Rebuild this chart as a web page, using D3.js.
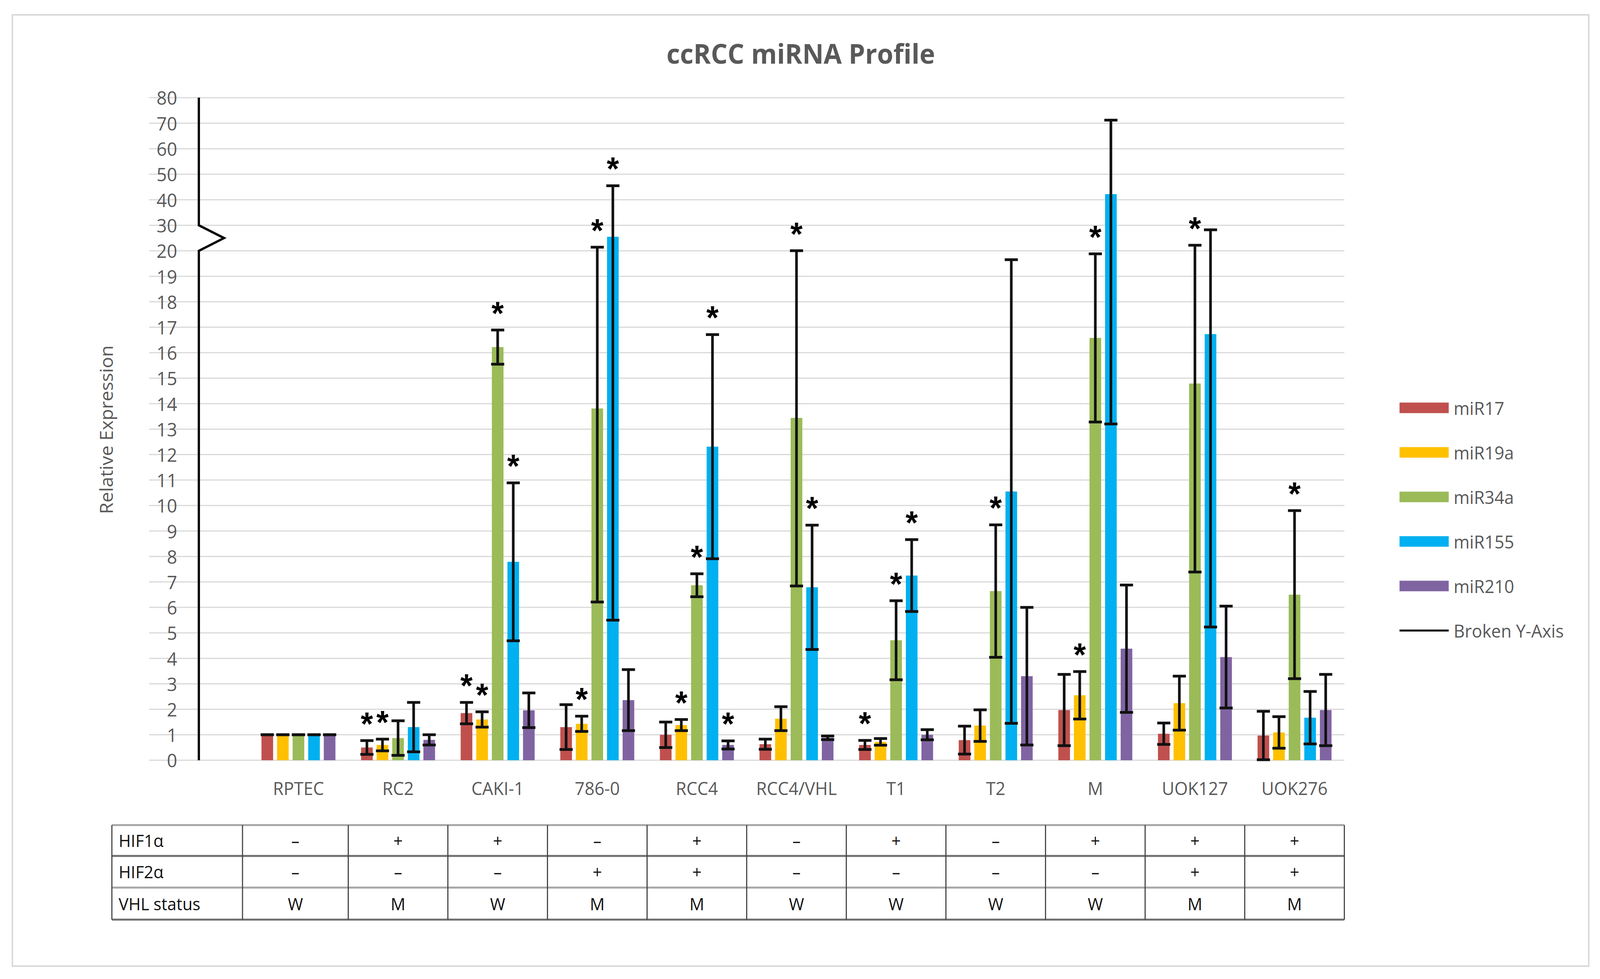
<!DOCTYPE html>
<html>
<head>
<meta charset="utf-8">
<script src="https://cdn.jsdelivr.net/npm/d3@7"></script>
<style>
html, body { margin: 0; padding: 0; background: #fff; overflow: hidden; }
text { font-family: "Open Sans", sans-serif; }
</style>
</head>
<body>
<div class="chart"></div>
<script>
var W = 4262, H = 2506;

// cell lines and the five miRNAs
var cells = ["RPTEC", "RC2", "CAKI-1", "786-0", "RCC4", "RCC4/VHL", "T1", "T2", "M", "UOK127", "UOK276"];
var series = ["miR17", "miR19a", "miR34a", "miR155", "miR210"];
var colors = ["#C0504D", "#FFC000", "#9BBB59", "#00B0F0", "#8064A2"];

// mean relative expression
var miR17  = [1, 0.5, 1.85, 1.3, 1.0, 0.63, 0.6, 0.79, 1.97, 1.04, 0.97];
var miR19a = [1, 0.6, 1.6, 1.43, 1.38, 1.63, 0.72, 1.36, 2.55, 2.24, 1.09];
var miR34a = [1, 0.87, 16.22, 13.81, 6.87, 13.44, 4.71, 6.64, 16.58, 14.79, 6.5];
var miR155 = [1, 1.3, 7.79, 25.5, 12.31, 6.79, 7.25, 10.55, 42.2, 16.73, 1.67];
var miR210 = [1, 0.8, 1.96, 2.36, 0.6, 0.88, 1.0, 3.3, 4.38, 4.05, 1.97];

// error (+/-)
var miR17Err  = [0, 0.27, 0.42, 0.88, 0.5, 0.2, 0.18, 0.55, 1.4, 0.42, 0.95];
var miR19aErr = [0, 0.23, 0.3, 0.3, 0.22, 0.47, 0.13, 0.62, 0.93, 1.06, 0.62];
var miR34aErr = [0, 0.68, 0.67, 7.6, 0.45, 6.6, 1.55, 2.6, 3.3, 7.4, 3.3];
var miR155Err = [0, 0.97, 3.1, 20, 4.4, 2.44, 1.41, 9.1, 29, 11.5, 1.03];
var miR210Err = [0, 0.2, 0.68, 1.2, 0.16, 0.07, 0.2, 2.7, 2.5, 2.0, 1.4];

// significance marks (1 = asterisk)
var miR17Sig  = [0, 1, 1, 0, 0, 0, 1, 0, 0, 0, 0];
var miR19aSig = [0, 1, 1, 1, 1, 0, 0, 0, 1, 0, 0];
var miR34aSig = [0, 0, 1, 1, 1, 1, 1, 1, 1, 1, 1];
var miR155Sig = [0, 0, 1, 1, 1, 1, 1, 0, 0, 0, 0];
var miR210Sig = [0, 0, 0, 0, 1, 0, 0, 0, 0, 0, 0];

var yTicks = [0, 1, 2, 3, 4, 5, 6, 7, 8, 9, 10, 11, 12, 13, 14, 15, 16, 17, 18, 19, 20, 30, 40, 50, 60, 70, 80];

// table under the chart
var rowLabels = ["HIF1α", "HIF2α", "VHL status"];
var hif1 = ["–", "+", "+", "–", "+", "–", "+", "–", "+", "+", "+"];
var hif2 = ["–", "–", "–", "+", "+", "–", "–", "–", "–", "+", "+"];
var vhl  = ["W", "M", "W", "M", "M", "W", "W", "W", "W", "M", "M"];

var means = [miR17, miR19a, miR34a, miR155, miR210];
var errs = [miR17Err, miR19aErr, miR34aErr, miR155Err, miR210Err];
var sigs = [miR17Sig, miR19aSig, miR34aSig, miR155Sig, miR210Sig];

var svg = d3.select(".chart").append("svg")
	.attr("viewBox", "0 0 " + W + " " + H)
	.attr("preserveAspectRatio", "none")
	.style("width", "100vw")
	.style("height", "100vh")
	.style("display", "block");

svg.append("rect").attr("width", W).attr("height", H).attr("fill", "#fff");

// outer frame
svg.append("rect")
	.attr("x", 33).attr("y", 38)
	.attr("width", 4199).attr("height", 2435)
	.attr("fill", "none")
	.attr("stroke", "#D9D9D9")
	.attr("stroke-width", 4);

// broken axis: 1 per step up to 20, 10 per step above
var y = d3.scaleLinear()
	.domain([0, 20, 80])
	.range([1946, 642, 250]);

// first (blank) category holds the broken y-axis line
var x0 = d3.scaleBand()
	.domain([""].concat(cells))
	.range([397, 3581]);

var groupW = 197;
var x1 = d3.scaleBand()
	.domain(series)
	.range([0, groupW])
	.paddingInner(0.253);
var off = (x0.bandwidth() - groupW) / 2;

// gridlines
svg.append("g").selectAll("line")
	.data(yTicks)
	.enter().append("line")
	.attr("x1", 397).attr("x2", 3581)
	.attr("y1", function(d) { return y(d); })
	.attr("y2", function(d) { return y(d); })
	.attr("stroke", "#D9D9D9")
	.attr("stroke-width", 3);

// tick labels
svg.append("g").selectAll("text")
	.data(yTicks)
	.enter().append("text")
	.attr("x", 472)
	.attr("y", function(d) { return y(d); })
	.attr("text-anchor", "end")
	.attr("dominant-baseline", "central")
	.attr("fill", "#595959")
	.style("font-size", "48px")
	.text(function(d) { return d; });

// broken y-axis line
var axX = x0("") + x0.bandwidth() / 2;
var axisPts = [[0, 80], [0, 30], [67, 25], [0, 20], [0, 0]];
svg.append("path")
	.datum(axisPts)
	.attr("fill", "none")
	.attr("stroke", "#000")
	.attr("stroke-width", 6)
	.attr("d", d3.line()
		.x(function(d) { return axX + d[0]; })
		.y(function(d) { return y(d[1]); }));

// bars, error bars, asterisks
series.forEach(function(s, si) {
	var g = svg.append("g");
	var bw = x1.bandwidth();
	var data = cells.map(function(c, i) {
		return { cell: c, v: means[si][i], e: errs[si][i], sig: sigs[si][i] };
	});
	function cx(d) { return x0(d.cell) + off + x1(s) + bw / 2; }

	g.selectAll("rect")
		.data(data)
		.enter().append("rect")
		.attr("x", function(d) { return x0(d.cell) + off + x1(s); })
		.attr("y", function(d) { return y(d.v); })
		.attr("width", bw)
		.attr("height", function(d) { return y(0) - y(d.v); })
		.attr("fill", colors[si]);

	g.selectAll(".stem")
		.data(data)
		.enter().append("line")
		.attr("x1", cx).attr("x2", cx)
		.attr("y1", function(d) { return y(d.v + d.e); })
		.attr("y2", function(d) { return y(Math.max(0, d.v - d.e)); })
		.attr("stroke", "#111")
		.attr("stroke-width", 7);

	[1, -1].forEach(function(sign) {
		g.selectAll(".cap" + sign)
			.data(data)
			.enter().append("line")
			.attr("x1", function(d) { return cx(d) - bw / 2 - 2; })
			.attr("x2", function(d) { return cx(d) + bw / 2 + 2; })
			.attr("y1", function(d) { return y(Math.max(0, d.v + sign * d.e)); })
			.attr("y2", function(d) { return y(Math.max(0, d.v + sign * d.e)); })
			.attr("stroke", "#111")
			.attr("stroke-width", 7);
	});

	g.selectAll(".star")
		.data(data.filter(function(d) { return d.sig; }))
		.enter().append("text")
		.attr("x", cx)
		.attr("y", function(d) { return y(d.v + d.e) - 62 + 0.57 * 84; })
		.attr("text-anchor", "middle")
		.style("font-family", "'Liberation Sans', sans-serif")
		.style("font-weight", "bold")
		.style("font-size", "84px")
		.attr("fill", "#000")
		.text("*");
});

// category labels
svg.append("g").selectAll("text")
	.data(cells)
	.enter().append("text")
	.attr("x", function(d) { return x0(d) + x0.bandwidth() / 2; })
	.attr("y", 2017)
	.attr("text-anchor", "middle")
	.attr("dominant-baseline", "central")
	.attr("fill", "#595959")
	.style("font-size", "46px")
	.text(function(d) { return d; });

// title
svg.append("text")
	.attr("x", 2133).attr("y", 136)
	.attr("text-anchor", "middle")
	.attr("dominant-baseline", "central")
	.attr("fill", "#595959")
	.style("font-weight", "bold")
	.style("font-size", "70px")
	.text("ccRCC miRNA Profile");

// y axis title
svg.append("text")
	.attr("transform", "translate(282,1100) rotate(-90)")
	.attr("text-anchor", "middle")
	.attr("dominant-baseline", "central")
	.attr("fill", "#595959")
	.style("font-size", "48px")
	.text("Relative Expression");

// legend
var legItems = series.map(function(s, i) { return { name: s, color: colors[i], thick: 27 }; });
legItems.push({ name: "Broken Y-Axis", color: "#000", thick: 5 });
var leg = svg.append("g").selectAll("g")
	.data(legItems)
	.enter().append("g")
	.attr("transform", function(d, i) { return "translate(3728," + (1044 + i * 114) + ")"; });
leg.append("line")
	.attr("x1", 0).attr("x2", 131)
	.attr("stroke", function(d) { return d.color; })
	.attr("stroke-width", function(d) { return d.thick; });
leg.append("text")
	.attr("x", 144)
	.attr("dominant-baseline", "central")
	.attr("fill", "#595959")
	.style("font-size", "46px")
	.text(function(d) { return d.name; });

// table
var rowsY = [2112, 2191, 2272, 2354];
var colX = [298, 646].concat(cells.slice(1).map(function(c) { return x0(c); }));
colX.push(x0(cells[cells.length - 1]) + x0.bandwidth());
var tbl = svg.append("g");
var hColors = ["#A6A6A6", "#6E6E6E", "#A6A6A6", "#6E6E6E"];
rowsY.forEach(function(ry, i) {
	tbl.append("line")
		.attr("x1", colX[0]).attr("x2", colX[colX.length - 1])
		.attr("y1", ry).attr("y2", ry)
		.attr("stroke", hColors[i])
		.attr("stroke-width", 5);
});
colX.forEach(function(cxv) {
	tbl.append("line")
		.attr("x1", cxv).attr("x2", cxv)
		.attr("y1", rowsY[0]).attr("y2", rowsY[3])
		.attr("stroke", "#444")
		.attr("stroke-width", 3);
});
var tableRows = [hif1, hif2, vhl];
tableRows.forEach(function(row, ri) {
	var my = (rowsY[ri] + rowsY[ri + 1]) / 2;
	tbl.append("text")
		.attr("x", 316).attr("y", my)
		.attr("dominant-baseline", "central")
		.attr("fill", "#111")
		.style("font-size", "44px")
		.text(rowLabels[ri]);
	tbl.selectAll(".c" + ri)
		.data(row)
		.enter().append("text")
		.attr("x", function(d, i) { return (colX[i + 1] + colX[i + 2]) / 2; })
		.attr("y", my)
		.attr("text-anchor", "middle")
		.attr("dominant-baseline", "central")
		.attr("fill", "#111")
		.style("font-size", "44px")
		.text(function(d) { return d; });
});
</script>
</body>
</html>
